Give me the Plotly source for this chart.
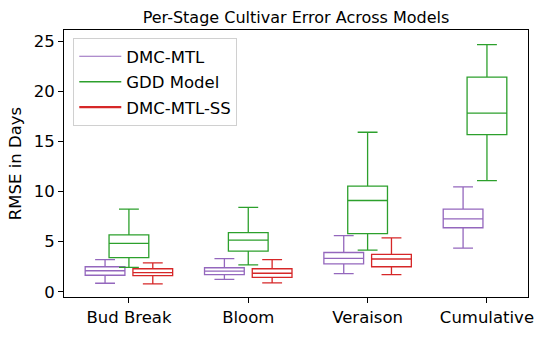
import plotly.graph_objects as go

# Stage names and per-model box statistics (RMSE in days)
stages = ["Bud Break", "Bloom", "Veraison", "Cumulative"]

mtl_low = [0.85, 1.23, 1.82, 4.35]
mtl_q1 = [1.65, 1.72, 2.79, 6.39]
mtl_med = [2.10, 2.07, 3.34, 7.27]
mtl_q3 = [2.50, 2.40, 3.92, 8.24]
mtl_high = [3.20, 3.30, 5.61, 10.47]

gdd_low = [2.43, 2.69, 4.15, 11.09]
gdd_q1 = [3.40, 4.05, 5.80, 15.68]
gdd_med = [4.83, 5.16, 9.11, 17.83]
gdd_q3 = [5.67, 5.90, 10.54, 21.41]
gdd_high = [8.24, 8.43, 15.92, 24.67]

ss_low = [0.78, 0.88, 1.72]
ss_q1 = [1.62, 1.43, 2.50]
ss_med = [1.92, 1.85, 3.27]
ss_q3 = [2.30, 2.30, 3.73]
ss_high = [2.89, 3.20, 5.38]

series = [
    ("DMC-MTL", "#9467bd", -0.2, mtl_low, mtl_q1, mtl_med, mtl_q3, mtl_high, 1.2),
    ("GDD Model", "#2ca02c", 0.0, gdd_low, gdd_q1, gdd_med, gdd_q3, gdd_high, 1.4),
    ("DMC-MTL-SS", "#d62728", 0.2, ss_low, ss_q1, ss_med, ss_q3, ss_high, 2.4),
]

fig = go.Figure()
for i, (name, color, offset, lo, q1, med, q3, hi, lw) in enumerate(series):
    fig.add_trace(go.Box(
        x=[k + offset for k in range(len(med))],
        lowerfence=lo, q1=q1, median=med, q3=q3, upperfence=hi,
        width=0.333, whiskerwidth=0.5,
        line=dict(color=color, width=1.3),
        fillcolor="rgba(0,0,0,0)",
        showlegend=False, hoverinfo="skip",
    ))
    # line-style legend handle like matplotlib
    fig.add_trace(go.Scatter(
        x=[None], y=[None], mode="lines", name=name,
        line=dict(color=color, width=lw), legendgroup=name,
    ))

fig.update_layout(
    width=546, height=339,
    margin=dict(l=64, r=17, t=30, b=37),
    plot_bgcolor="white", paper_bgcolor="white",
    font=dict(family="DejaVu Sans", size=16.5, color="black"),
    title=dict(text="Per-Stage Cultivar Error Across Models", x=0.5, xref="paper",
               xanchor="center", y=0.95, yanchor="middle", font=dict(size=16)),
    legend=dict(x=0.02, y=0.97, xanchor="left", yanchor="top",
                bordercolor="#d0d0d0", borderwidth=1, bgcolor="rgba(255,255,255,0.8)",
                font=dict(size=16.5), tracegroupgap=1, itemwidth=42),
    showlegend=True,
)
fig.update_xaxes(
    range=[-0.544, 3.344], tickvals=list(range(len(stages))), ticktext=stages,
    showline=True, linecolor="black", linewidth=1, mirror=True,
    ticks="outside", ticklen=5, tickcolor="black", showgrid=False, zeroline=False,
)
fig.update_yaxes(
    range=[-0.52, 26.12], tickvals=[0, 5, 10, 15, 20, 25],
    title=dict(text="RMSE in Days", standoff=7, font=dict(size=16.5)),
    showline=True, linecolor="black", linewidth=1, mirror=True,
    ticks="outside", ticklen=5, tickcolor="black", showgrid=False, zeroline=False,
)

fig.write_html("out.html", config={"displayModeBar": False},
               post_script="document.body.style.margin='0';")
